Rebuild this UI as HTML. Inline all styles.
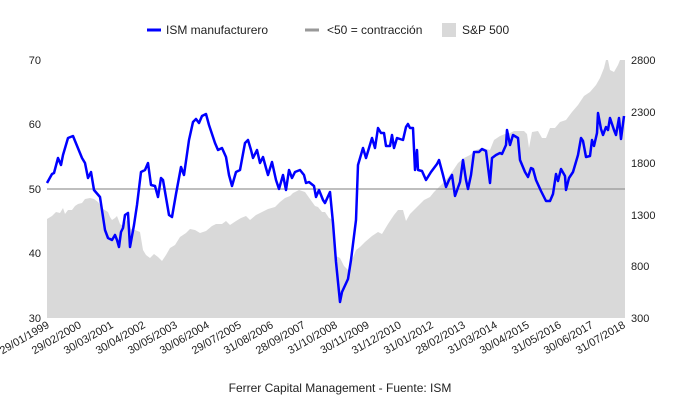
<!DOCTYPE html>
<html><head><meta charset="utf-8"><style>body{margin:0;background:#fff}svg{display:block;font-family:"Liberation Sans",sans-serif}</style></head><body>
<svg width="680" height="420" viewBox="0 0 680 420">
<polygon fill="#d9d9d9" points="47,219 52,216 56,212 60,213 63,208 65,214 68,210 72,210 75,206 78,204 82,203 85,199 90,198 94,199 98,202 103,209 108,212 110,217 112,220 115,218 117,216 120,224 123,226 127,220 131,229 135,230 140,232 143,250 146,255 150,258 154,254 158,257 162,261 166,255 170,248 175,245 180,237 186,233 190,229 195,230 200,233 206,231 212,226 216,224 222,224 226,221 230,225 236,221 241,218 246,216 250,220 256,215 262,212 268,209 275,207 280,202 285,198 290,196 293,193 299,190 305,192 310,199 315,206 318,207 322,212 325,212 329,218 333,220 336,256 340,258 344,266 348,270 352,260 356,250 360,247 365,242 372,236 378,232 382,234 388,224 394,215 398,210 403,210 406,221 410,214 418,206 424,200 430,197 434,192 440,186 446,180 452,172 458,163 464,158 470,155 476,150 482,148 486,149 490,150 494,140 500,136 505,134 510,133 514,131 520,131 524,131 527,134 529,148 532,132 538,131 542,138 546,138 550,128 555,128 560,122 566,120 572,112 578,105 584,96 590,92 596,85 600,78 604,68 606,60 608,60 610,70 614,72 618,65 620,60 625,60 625,318 47,318"/>
<line x1="47" y1="189" x2="625" y2="189" stroke="#999" stroke-width="1.2"/>
<polyline fill="none" stroke="#0000ff" stroke-width="2.5" stroke-linejoin="round" points="47,183 52,174 54,173 58,158 61,165 63,155 68,138 73,136 82,158 85,163 88,178 91,172 94,190 100,197 105,230 108,238 112,240 115,235 117,240 119,247 121,232 123,228 125,215 128,213 130,247 134,225 137,205 141,172 145,170 148,163 151,185 155,186 158,197 161,178 163,180 169,215 172,217 176,194 181,167 184,175 189,140 193,122 196,119 199,123 202,116 206,114 209,125 215,143 218,150 222,148 226,157 229,175 232,186 236,172 240,170 245,143 248,140 251,150 253,158 257,150 260,163 263,157 266,168 268,175 272,162 276,180 279,189 283,175 286,190 289,170 292,178 295,172 300,170 304,175 306,183 309,182 314,186 316,197 319,190 323,200 325,203 330,192 333,223 336,262 340,302 342,292 348,279 351,260 356,220 358,165 363,148 366,158 369,148 372,138 375,148 378,128 381,133 384,133 386,146 390,146 392,135 394,148 397,138 403,140 406,127 408,124 410,128 413,128 415,170 417,150 418,170 422,171 426,180 431,172 437,164 439,160 443,175 446,187 449,180 452,175 455,196 460,182 463,160 466,180 468,189 471,175 474,152 479,152 482,149 486,151 490,183 492,158 496,155 500,153 502,154 506,145 507,130 510,145 513,135 518,138 520,160 525,172 528,177 531,168 533,169 536,180 541,191 546,201 550,201 553,194 556,174 558,181 561,169 565,176 566,190 569,178 573,172 578,155 581,138 583,141 586,157 590,156 592,140 594,146 597,133 598,113 601,129 603,135 606,127 608,130 610,118 614,130 616,135 619,118 621,139 624,116"/>
<g font-size="11" fill="#222" text-anchor="end">
<text x="41" y="64">70</text><text x="41" y="128">60</text><text x="41" y="193">50</text><text x="41" y="257">40</text><text x="41" y="322">30</text>
</g>
<g font-size="11" fill="#222">
<text x="631" y="64">2800</text><text x="631" y="116">2300</text><text x="631" y="167">1800</text><text x="631" y="219">1300</text><text x="631" y="270">800</text><text x="631" y="322">300</text>
</g>
<g font-size="11" fill="#222" text-anchor="end">
<text transform="translate(50,327) rotate(-30)">29/01/1999</text>
<text transform="translate(82,327) rotate(-30)">29/02/2000</text>
<text transform="translate(114,327) rotate(-30)">30/03/2001</text>
<text transform="translate(146,327) rotate(-30)">30/04/2002</text>
<text transform="translate(178,327) rotate(-30)">30/05/2003</text>
<text transform="translate(210,327) rotate(-30)">30/06/2004</text>
<text transform="translate(242,327) rotate(-30)">29/07/2005</text>
<text transform="translate(274,327) rotate(-30)">31/08/2006</text>
<text transform="translate(306,327) rotate(-30)">28/09/2007</text>
<text transform="translate(338,327) rotate(-30)">31/10/2008</text>
<text transform="translate(370,327) rotate(-30)">30/11/2009</text>
<text transform="translate(402,327) rotate(-30)">31/12/2010</text>
<text transform="translate(434,327) rotate(-30)">31/01/2012</text>
<text transform="translate(466,327) rotate(-30)">28/02/2013</text>
<text transform="translate(498,327) rotate(-30)">31/03/2014</text>
<text transform="translate(530,327) rotate(-30)">30/04/2015</text>
<text transform="translate(562,327) rotate(-30)">31/05/2016</text>
<text transform="translate(594,327) rotate(-30)">30/06/2017</text>
<text transform="translate(626,327) rotate(-30)">31/07/2018</text>
</g>
<line x1="147" y1="30" x2="161" y2="30" stroke="#0000ff" stroke-width="3"/>
<text x="166" y="34" font-size="12" fill="#222">ISM manufacturero</text>
<line x1="305" y1="30" x2="319" y2="30" stroke="#999" stroke-width="3"/>
<text x="327" y="34" font-size="12" fill="#222">&lt;50 = contracción</text>
<rect x="442" y="23" width="14" height="14" fill="#d9d9d9"/>
<text x="462" y="34" font-size="12" fill="#222">S&amp;P 500</text>
<text x="340" y="392" font-size="12" fill="#222" text-anchor="middle">Ferrer Capital Management - Fuente: ISM</text>
</svg>
</body></html>
